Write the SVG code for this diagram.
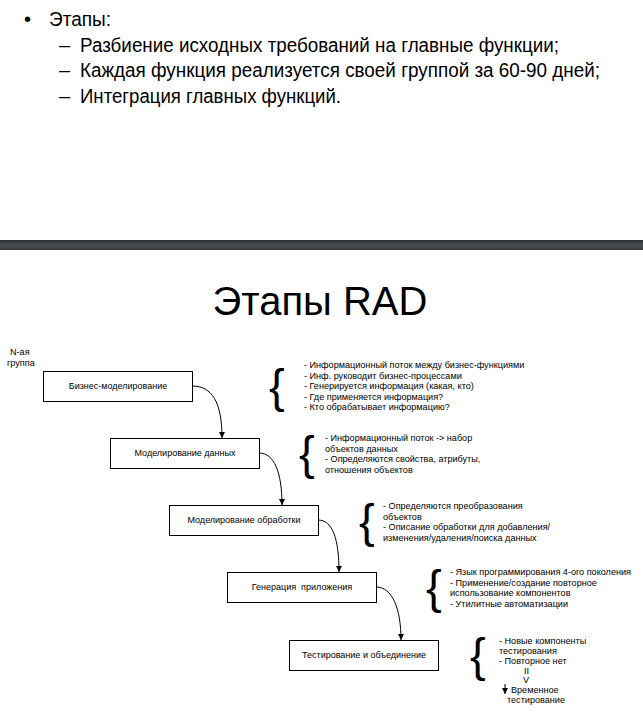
<svg xmlns="http://www.w3.org/2000/svg" width="643" height="715" viewBox="0 0 643 715">
  <defs>
    <linearGradient id="barGrad" x1="0" y1="0" x2="0" y2="1">
      <stop offset="0" stop-color="#2c2e30"/>
      <stop offset="0.5" stop-color="#4b4f53"/>
      <stop offset="1" stop-color="#35373a"/>
    </linearGradient>
    <marker id="arrow" viewBox="0 0 10 10" refX="10" refY="5" markerWidth="6" markerHeight="6" markerUnits="userSpaceOnUse" orient="auto">
      <path d="M0,0 L10,5 L0,10 Z" fill="#000"/>
    </marker>
  </defs>
  <style>
    text { font-family: "Liberation Sans", Arial, sans-serif; fill: #000; }
    .bullet { font-size: 20px; }
    .title { font-size: 40px; }
    .box rect { fill: #fff; stroke: #000; stroke-width: 1; }
    .box text { font-size: 9px; text-anchor: middle; white-space: pre; }
    .note text { font-size: 9.1px; }
    .note .brace { font-size: 47px; }
    .conn path { fill: none; stroke: #000; stroke-width: 1; marker-end: url(#arrow); }
  </style>

  <rect width="643" height="715" fill="#fff"/>

  <!-- slide 1: list of stages -->
  <g id="stages-list">
    <text class="bullet" x="24" y="26">•</text>
    <text class="bullet" x="49" y="26" textLength="62" lengthAdjust="spacingAndGlyphs">Этапы:</text>
    <text class="bullet" x="59" y="52">–</text>
    <text class="bullet" x="80" y="52" textLength="479" lengthAdjust="spacingAndGlyphs">Разбиение исходных требований на главные функции;</text>
    <text class="bullet" x="59" y="77">–</text>
    <text class="bullet" x="80" y="77" textLength="520" lengthAdjust="spacingAndGlyphs">Каждая функция реализуется своей группой за 60-90 дней;</text>
    <text class="bullet" x="59" y="103">–</text>
    <text class="bullet" x="80" y="103" textLength="261" lengthAdjust="spacingAndGlyphs">Интеграция главных функций.</text>
  </g>

  <!-- slide separator -->
  <rect x="0" y="240" width="643" height="10" fill="url(#barGrad)"/>

  <!-- slide 2 -->
  <text class="title" x="320" y="315" text-anchor="middle">Этапы RAD</text>

  <g id="group-label" class="note">
    <text x="10" y="355">N-ая</text>
    <text x="7" y="366">группа</text>
  </g>

  <g id="business-modeling" class="box">
    <rect x="43.5" y="371.5" width="149" height="30"/>
    <text x="118" y="389">Бизнес-моделирование</text>
  </g>
  <g id="data-modeling" class="box">
    <rect x="110.5" y="438.5" width="149" height="30"/>
    <text x="185" y="456">Моделирование данных</text>
  </g>
  <g id="process-modeling" class="box">
    <rect x="169.5" y="505.5" width="149" height="30"/>
    <text x="244" y="523">Моделирование обработки</text>
  </g>
  <g id="app-generation" class="box">
    <rect x="227.5" y="572.5" width="149" height="30"/>
    <text x="302" y="590">Генерация  приложения</text>
  </g>
  <g id="testing" class="box">
    <rect x="289.5" y="640.5" width="149" height="30"/>
    <text x="364" y="658">Тестирование и объединение</text>
  </g>

  <g id="connectors" class="conn">
    <path d="M192,386 C212,386 222,402 222,438"/>
    <path d="M259,453 C274,453 282,472 282,505"/>
    <path d="M318,520 C333,520 339,540 339,572"/>
    <path d="M376,587 C392,587 401,608 401,640"/>
  </g>

  <g id="note-business" class="note">
    <text class="brace" x="269" y="402">{</text>
    <text x="304" y="368">- Информационный поток между бизнес-функциями</text>
    <text x="304" y="378.5">- Инф. руководит бизнес-процессами</text>
    <text x="304" y="389">- Генерируется информация (какая, кто)</text>
    <text x="304" y="399.5">- Где применяется информация?</text>
    <text x="304" y="410">- Кто обрабатывает информацию?</text>
  </g>

  <g id="note-data" class="note">
    <text class="brace" x="299" y="469">{</text>
    <text x="325" y="441">- Информационный поток -&gt; набор</text>
    <text x="325" y="451.5">объектов данных</text>
    <text x="325" y="462">- Определяются свойства, атрибуты,</text>
    <text x="325" y="472.5">отношения объектов</text>
  </g>

  <g id="note-process" class="note">
    <text class="brace" x="359" y="537">{</text>
    <text x="383" y="509">- Определяются преобразования</text>
    <text x="383" y="519.5">объектов</text>
    <text x="383" y="530">- Описание обработки для добавления/</text>
    <text x="383" y="540.5">изменения/удаления/поиска данных</text>
  </g>

  <g id="note-generation" class="note">
    <text class="brace" x="426" y="603">{</text>
    <text x="450" y="575">- Язык программирования 4-ого поколения</text>
    <text x="450" y="585.5">- Применение/создание повторное</text>
    <text x="450" y="596">использование компонентов</text>
    <text x="450" y="606.5">- Утилитные автоматизации</text>
  </g>

  <g id="note-testing" class="note">
    <text class="brace" x="470" y="671">{</text>
    <text x="499" y="644">- Новые компоненты</text>
    <text x="499" y="654">тестирования</text>
    <text x="499" y="664">- Повторное нет</text>
    <text x="524" y="673.5">II</text>
    <text x="523" y="682.5">V</text>
    <path d="M505,684 L505,694" stroke="#000" stroke-width="1" fill="none" marker-end="url(#arrow)"/>
    <text x="511" y="693">Временное</text>
    <text x="507" y="703">тестирование</text>
  </g>
</svg>
